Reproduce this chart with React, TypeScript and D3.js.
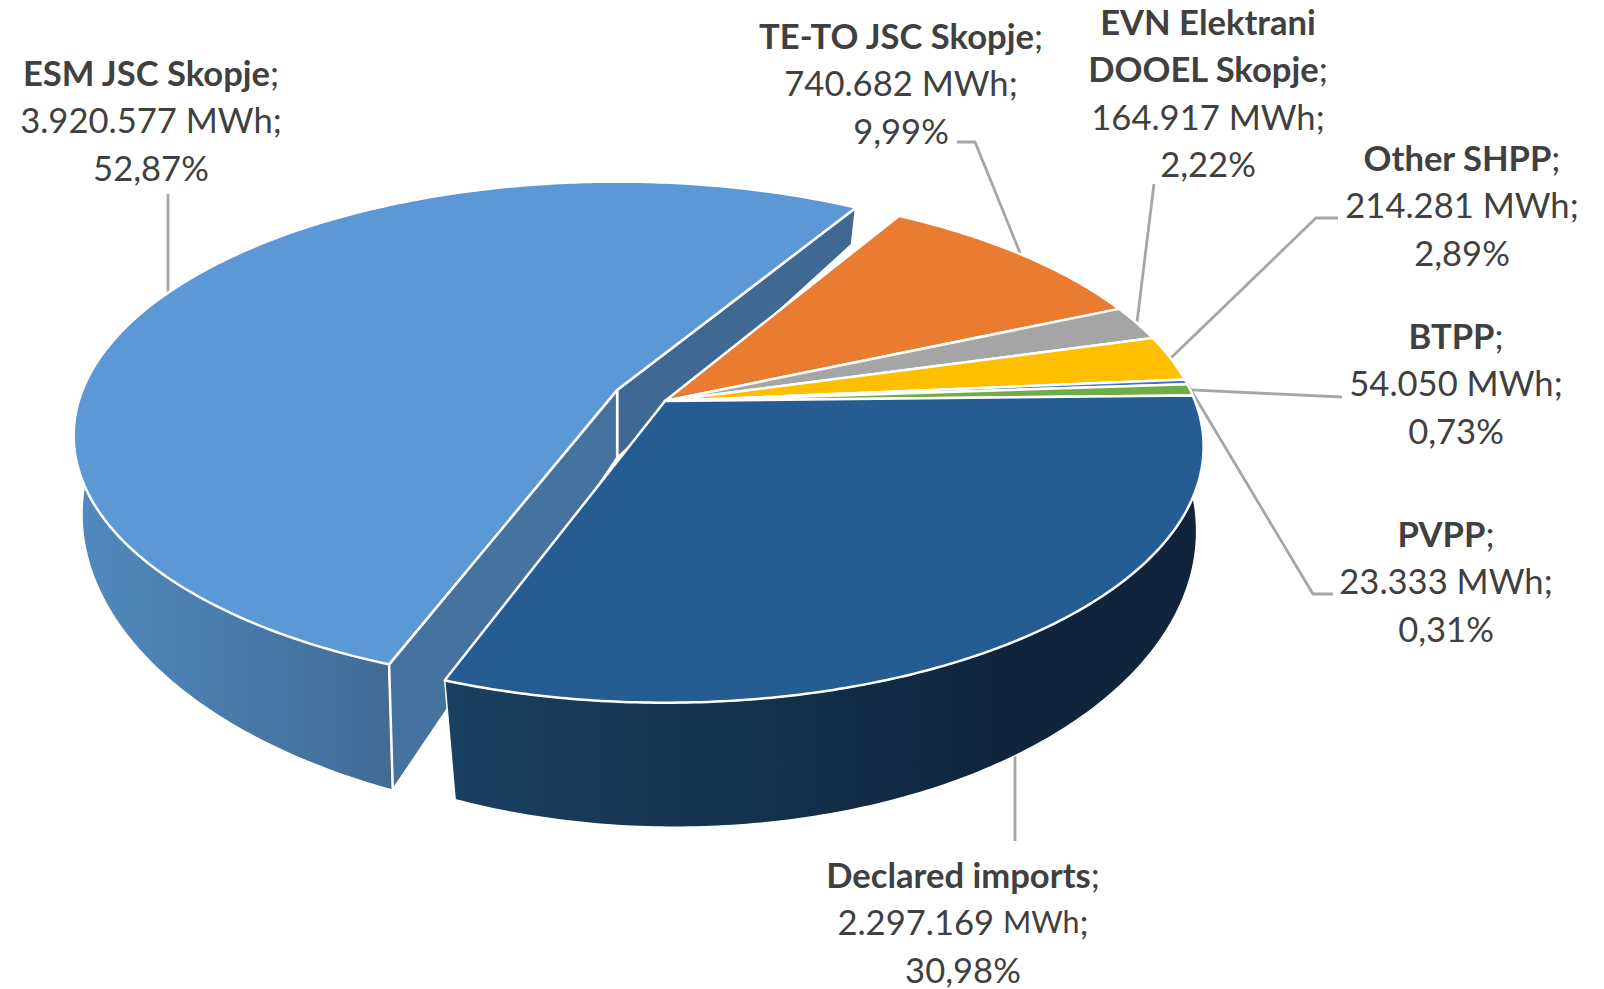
// 3D exploded pie of electricity supply shares, drawn with a perspective
// projection of the unit disc (top and bottom faces have separate projections).
import * as d3 from "d3";

const sliceNames = [
  "TE-TO JSC Skopje",
  "EVN Elektrani DOOEL Skopje",
  "Other SHPP",
  "PVPP",
  "BTPP",
  "Declared imports",
  "ESM JSC Skopje",
];
const sliceValues = [740682, 164917, 214281, 23333, 54050, 2297169, 3920577];
const sliceColors = ["#ea7c31", "#a5a5a5", "#fdbf00", "#4472c4", "#70ad47", "#255c91", "#5b98d5"];
const explodedSlices = ["ESM JSC Skopje"];

// label layout: centre x and first line centre y, leader elbows after the slice anchor
const labelLayout: Record<string, { x: number; y: number; nameLines: string[]; elbows: number[][]; vertical?: boolean }> = {
  "TE-TO JSC Skopje": { x: 901, y: 35, nameLines: ["TE-TO JSC Skopje"], elbows: [[975, 142], [957, 142]] },
  "EVN Elektrani DOOEL Skopje": { x: 1208, y: 21, nameLines: ["EVN Elektrani", "DOOEL Skopje"], elbows: [[1154, 184]] },
  "Other SHPP": { x: 1462, y: 157, nameLines: ["Other SHPP"], elbows: [[1316, 218], [1338, 218]] },
  PVPP: { x: 1446, y: 533, nameLines: ["PVPP"], elbows: [[1313, 594], [1333, 594]] },
  BTPP: { x: 1456, y: 335, nameLines: ["BTPP"], elbows: [[1342, 397]] },
  "Declared imports": { x: 963, y: 874, nameLines: ["Declared imports"], elbows: [[1015, 841]], vertical: true },
  "ESM JSC Skopje": { x: 151, y: 72, nameLines: ["ESM JSC Skopje"], elbows: [[168, 194]], vertical: true },
};

const START_ANGLE = (30.6 * Math.PI) / 180;
const EXPLODE = 0.105;
const EXPLODED_CUT_HEIGHT = 68;
const EXPLODED_TOP_BULGE = 0.02;
const EXPLODED_BOTTOM_BULGE = 0.06;
const LINE_HEIGHT = 47.3;
const FONT_SIZE = 34.6;
const TEXT_COLOR = "#404040";
const LEADER_COLOR = "#a6a6a6";

type Face = { cx: number; cy: number; a: number; b: number; p: number };
const topFace: Face = { cx: 665, cy: 401, a: 530, b: 248, p: 0.178 };
const bottomFace: Face = { cx: 675, cy: 469, a: 510, b: 283, p: 0.21 };
// the pulled-out slice has its own projection
const explodedTop: Face = { cx: 667, cy: 401, a: 530, b: 248, p: 0.178 };
const explodedBottom: Face = { cx: 675, cy: 465, a: 513, b: 292, p: 0.222 };

const locale = d3.formatLocale({ decimal: ",", thousands: ".", grouping: [3], currency: ["", ""] });
const fmtValue = locale.format(",d");
const fmtPct = locale.format(".2f");
const total = d3.sum(sliceValues);

const pie = d3
  .pie<number>()
  .sort(null)
  .startAngle(START_ANGLE)
  .endAngle(START_ANGLE + 2 * Math.PI);
const arcs = pie(sliceValues);

function project(face: Face, angle: number, r: number, off: number[]): [number, number] {
  const X = r * Math.sin(angle) + off[0];
  const Y = r * Math.cos(angle) + off[1];
  const den = 1 + face.p * Y;
  return [face.cx + (face.a * X) / den, face.cy - (face.b * Y) / den];
}

const toPath = d3.line<[number, number]>().curve(d3.curveLinear);

function rim(face: Face, a0: number, a1: number, off: number[], bulge = 0) {
  const n = Math.max(2, Math.ceil(Math.abs(a1 - a0) * 90));
  return d3.range(n + 1).map((i) => {
    const r = 1 + bulge * Math.sin((Math.PI * i) / n) ** 2;
    return project(face, a0 + ((a1 - a0) * i) / n, r, off);
  });
}

export default function App() {
  const slices = arcs.map((d, i) => {
    const name = sliceNames[i];
    const ex = explodedSlices.includes(name);
    const mid = (d.startAngle + d.endAngle) / 2;
    const off = ex ? [EXPLODE * Math.sin(mid), EXPLODE * Math.cos(mid)] : [0, 0];
    const tf = ex ? explodedTop : topFace;
    const bf = ex ? explodedBottom : bottomFace;
    const topRim = rim(tf, d.startAngle, d.endAngle, off, ex ? EXPLODED_TOP_BULGE : 0);
    const botRim = rim(bf, d.startAngle, d.endAngle, off, ex ? EXPLODED_BOTTOM_BULGE : 0);
    const apexTop = project(tf, 0, 0, off);
    const apexBot: [number, number] = ex ? [apexTop[0], apexTop[1] + EXPLODED_CUT_HEIGHT] : project(bf, 0, 0, off);
    return {
      name,
      ex,
      color: sliceColors[i],
      value: d.data,
      anchor: project(tf, mid, 1, off),
      topPath: toPath([apexTop, ...topRim])! + "Z",
      wallPath: toPath([...topRim, ...[...botRim].reverse()])! + "Z",
      // faces of the cut: index 0 = start edge, last = end edge
      cutStart: toPath([apexTop, topRim[0], botRim[0], apexBot])! + "Z",
      cutEnd: toPath([apexTop, topRim[topRim.length - 1], botRim[botRim.length - 1], apexBot])! + "Z",
    };
  });

  const wallFill = (s: { ex: boolean; name: string; color: string }) =>
    s.ex ? "url(#wall-light)" : s.name === "Declared imports" ? "url(#wall-dark)" : s.color;

  return (
    <svg
      width={1604}
      height={989}
      style={{ position: "absolute", left: 0, top: 0, background: "#fff" }}
      fontFamily="Lato, 'Open Sans', sans-serif"
    >
      <defs>
        <linearGradient id="wall-light" gradientUnits="userSpaceOnUse" x1={75} x2={395} y1={0} y2={0}>
          <stop offset="0" stopColor="#5189bf" />
          <stop offset="1" stopColor="#416b95" />
        </linearGradient>
        <linearGradient id="wall-dark" gradientUnits="userSpaceOnUse" x1={445} x2={1000} y1={0} y2={0}>
          <stop offset="0" stopColor="#1a4062" />
          <stop offset="1" stopColor="#10253c" />
        </linearGradient>
      </defs>

      {slices.map((s) => {
        const lay = labelLayout[s.name];
        const first = lay.vertical ? [lay.elbows[0][0], s.anchor[1]] : s.anchor;
        const pts = [first, ...lay.elbows] as [number, number][];
        return <path key={s.name} d={toPath(pts)!} fill="none" stroke={LEADER_COLOR} strokeWidth={2.8} />;
      })}

      {slices
        .filter((s) => s.ex)
        .map((s) => (
          <g key={s.name + "-faces"} stroke="#fff" strokeWidth={2.5} strokeLinejoin="round">
            <path d={s.wallPath} fill={wallFill(s)} strokeWidth={1.5} />
            <path d={s.cutEnd} fill="#3f6892" />
            <path d={s.cutStart} fill="#45729f" />
            <path d={s.topPath} fill={s.color} />
          </g>
        ))}
      {/* the rest of the pie sits in front of the exploded slice */}
      {slices
        .filter((s) => !s.ex)
        .map((s) => (
          <path
            key={s.name + "-wall"}
            d={s.wallPath}
            fill={wallFill(s)}
            stroke="#fff"
            strokeWidth={1.5}
            strokeLinejoin="round"
          />
        ))}
      {slices
        .filter((s) => !s.ex)
        .map((s) => (
          <path key={s.name + "-top"} d={s.topPath} fill={s.color} stroke="#fff" strokeWidth={2.5} strokeLinejoin="round" />
        ))}

      {slices.map((s) => {
        const lay = labelLayout[s.name];
        const n = lay.nameLines.length;
        const isImports = s.name === "Declared imports";
        return (
          <text key={s.name + "-label"} fontSize={FONT_SIZE} fill={TEXT_COLOR} textAnchor="middle" dominantBaseline="central">
            {lay.nameLines.map((line, i) => (
              <tspan key={line} x={lay.x} y={lay.y + i * LINE_HEIGHT}>
                <tspan fontWeight={700}>{line}</tspan>
                {i === n - 1 ? ";" : ""}
              </tspan>
            ))}
            <tspan x={lay.x} y={lay.y + n * LINE_HEIGHT}>
              {fmtValue(s.value)} <tspan fontSize={isImports ? FONT_SIZE * 0.88 : FONT_SIZE}>MWh</tspan>;
            </tspan>
            <tspan x={lay.x} y={lay.y + (n + 1) * LINE_HEIGHT}>
              {fmtPct((s.value / total) * 100)}%
            </tspan>
          </text>
        );
      })}
    </svg>
  );
}
